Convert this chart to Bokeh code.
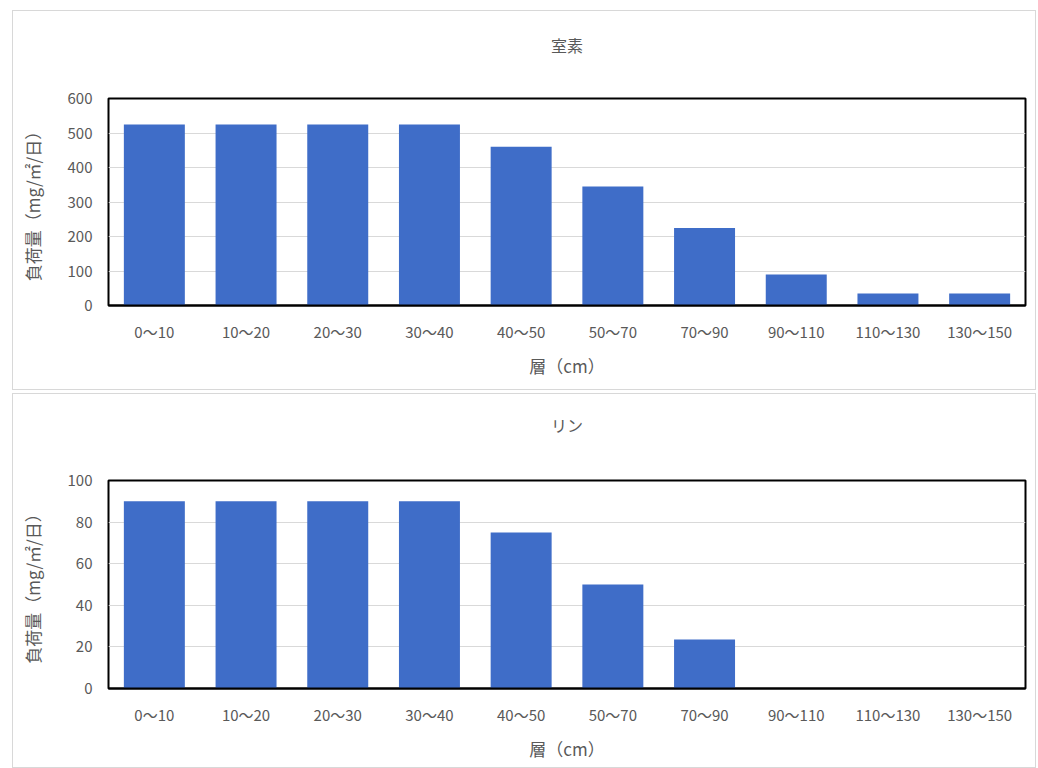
from bokeh.plotting import figure
from bokeh.layouts import column
from bokeh.models import Range1d, FixedTicker, ColumnDataSource, LinearAxis
from bokeh.embed import file_html
from bokeh.resources import INLINE

layers = ["0～10", "10～20", "20～30", "30～40", "40～50", "50～70",
          "70～90", "90～110", "110～130", "130～150"]
nitrogen = [525, 525, 525, 525, 460, 345, 225, 90, 35, 35]
phosphorus = [90, 90, 90, 90, 75, 50, 23.5, 0, 0, 0]

titles = ["室素", "リン"]
y_label = "負荷量（mg/㎡/日）"
x_label = "層（cm）"

JP = "Noto Sans CJK JP"
TXT = "#595959"
BAR = "#3F6DC8"


def make(title, values, ymax, step, height, top, bottom, title_gap):
    src = ColumnDataSource(dict(x=layers, y=values))
    p = figure(x_range=layers, y_range=Range1d(0, ymax), width=1024, height=height,
               output_backend="svg", toolbar_location=None,
               min_border_left=95, min_border_right=12,
               min_border_top=top, min_border_bottom=bottom)
    p.vbar(x="x", top="y", width=0.665, source=src, fill_color=BAR, line_color=None)
    p.outline_line_color = "black"
    p.outline_line_width = 2
    p.xgrid.grid_line_color = None
    p.ygrid.grid_line_color = "#d9d9d9"
    p.ygrid.grid_line_width = 1
    xax = p.xaxis[0]
    yax = p.yaxis[0]
    yax.ticker = FixedTicker(ticks=list(range(0, ymax + 1, step)))
    for ax in (xax, yax):
        ax.major_tick_line_color = None
        ax.minor_tick_line_color = None
        ax.major_label_text_font = JP
        ax.major_label_text_font_size = "15px"
        ax.major_label_text_color = TXT
        ax.axis_label_text_font = JP
        ax.axis_label_text_font_size = "17px"
        ax.axis_label_text_font_style = "normal"
        ax.axis_label_text_color = TXT
    yax.axis_line_color = None
    xax.axis_line_color = "black"
    xax.axis_line_width = 2
    xax.major_label_standoff = 9
    yax.major_label_standoff = 10
    xax.axis_label = x_label
    yax.axis_label = y_label
    xax.axis_label_standoff = 8
    yax.axis_label_standoff = 20
    p.x_range.range_padding = 0.0
    # chart title drawn as the label of an empty axis above the frame
    tax = LinearAxis(ticker=FixedTicker(ticks=[]), axis_label=title,
                     axis_line_color=None, major_tick_line_color=None,
                     minor_tick_line_color=None, major_tick_out=0, major_tick_in=0,
                     axis_label_standoff=title_gap,
                     axis_label_text_font=JP, axis_label_text_font_size="16px",
                     axis_label_text_font_style="normal", axis_label_text_color=TXT)
    p.add_layout(tax, "above")
    p.styles = {"border": "1px solid #d8d8d8", "box-sizing": "border-box"}
    return p


p1 = make(titles[0], nitrogen, 600, 100, 380, 87, 86, 42)
p2 = make(titles[1], phosphorus, 100, 20, 375, 86, 81, 44)
layout = column(p1, p2, spacing=3, styles={"margin-left": "12px", "margin-top": "10px"})

open("out.html", "w").write(file_html(layout, INLINE))
